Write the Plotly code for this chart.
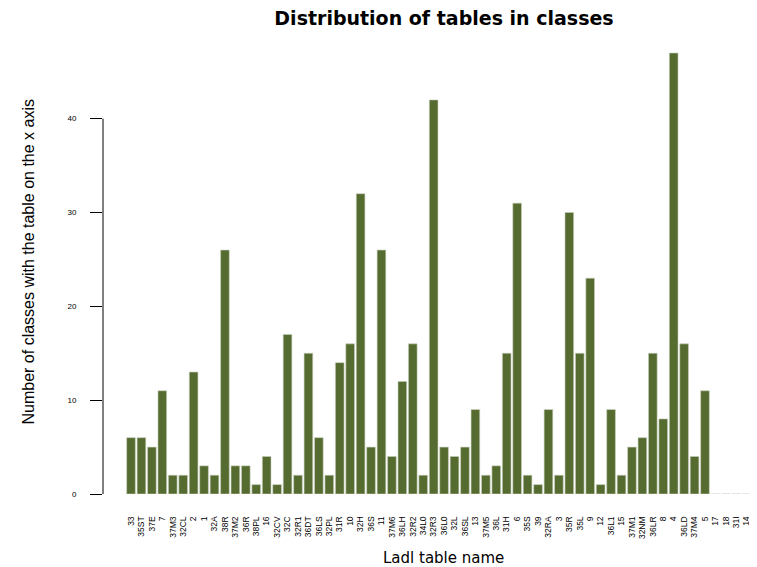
import plotly.graph_objects as go

tables = [
    "33", "35ST", "37E", "7", "37M3", "32CL", "2", "1", "32A", "38R",
    "37M2", "36R", "38PL", "16", "32CV", "32C", "32R1", "36DT", "36LS", "32PL",
    "31R", "10", "32H", "36S", "11", "37M6", "36LH", "32R2", "34L0", "32R3",
    "36L0", "32L", "36SL", "13", "37M5", "36L", "31H", "6", "35S", "39",
    "32RA", "3", "35R", "35L", "9", "12", "36L1", "15", "37M1", "32NM",
    "36LR", "8", "4", "36LD", "37M4", "5", "17", "18", "31I", "14", "19",
]
counts = [
    6, 6, 5, 11, 2, 2, 13, 3, 2, 26,
    3, 3, 1, 4, 1, 17, 2, 15, 6, 2,
    14, 16, 32, 5, 26, 4, 12, 16, 2, 42,
    5, 4, 5, 9, 2, 3, 15, 31, 2, 1,
    9, 2, 30, 15, 23, 1, 9, 2, 5, 6,
    15, 8, 47, 16, 4, 11, 0, 0, 0, 0, 0,
]
y_ticks = [0, 10, 20, 30, 40]

font = "Liberation Sans, Arial, Helvetica, sans-serif"
wide = "DejaVu Sans, Verdana, sans-serif"

# page body has an 8px margin, so the figure sits 8px right/down in the window
L, B, W, H = 95, 81, 757, 567
plot_w, plot_h = W - L, H - B

fig = go.Figure(go.Bar(
    x=tables,
    y=counts,
    width=0.83,
    marker=dict(color="#556B2F", line=dict(color="#c9d0c0", width=0.6)),
))

# R-style y axis line only spanning the tick range
fig.add_shape(type="line", xref="paper", yref="y", x0=0, x1=0, y0=0, y1=40,
              line=dict(color="black", width=1))

fig.add_annotation(text="Number of classes with the table on the x axis",
                   xref="paper", yref="paper", x=(10 - L) / plot_w, y=(plot_h - 254) / plot_h,
                   textangle=-90, showarrow=False,
                   font=dict(family=font, size=16, color="black"))
fig.add_annotation(text="Ladl table name", xref="paper", yref="paper",
                   x=(435 - L) / plot_w, y=-(550 - plot_h) / plot_h, yanchor="middle",
                   showarrow=False, font=dict(family=wide, size=15, color="black"))

fig.update_layout(
    width=W, height=H,
    template="plotly_white",
    plot_bgcolor="white", paper_bgcolor="white",
    margin=dict(l=L, r=0, t=0, b=B, autoexpand=False),
    showlegend=False,
    title=dict(text="<b>Distribution of tables in classes</b>",
               x=436 / W, xanchor="center", xref="container",
               y=1 - 10 / H, yanchor="middle", yref="container",
               font=dict(family=wide, size=19, color="black")),
)
fig.update_xaxes(
    type="category", range=[-2.683, 60.75], showgrid=False, zeroline=False,
    showline=False, tickangle=-90, ticks="outside", ticklen=18, automargin=False,
    tickcolor="rgba(0,0,0,0)", tickfont=dict(family=font, size=8.5, color="black"),
)
fig.update_yaxes(
    range=[0, plot_h / 9.383], tickvals=y_ticks, showgrid=False, zeroline=False,
    showline=False, ticks="outside", ticklen=12, tickcolor="black", automargin=False,
    ticklabelstandoff=12, tickfont=dict(family=font, size=8, color="black"),
)

fig.write_html("out.html")
